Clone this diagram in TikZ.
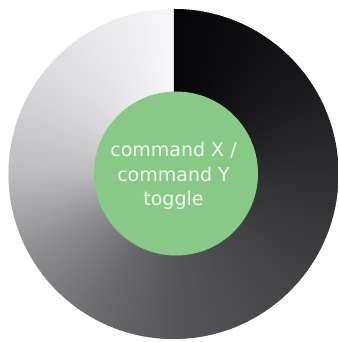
\documentclass[tikz,border=0pt]{standalone}
\usepackage{fontspec}
\setmainfont{DejaVu Sans}
\definecolor{grn}{HTML}{88C988}
\definecolor{txt}{HTML}{F0F8F0}
\begin{document}
\begin{tikzpicture}[x=1pt,y=1pt]
\useasboundingbox (0,0) rectangle (338,342);
\coordinate (O) at (173.5,168);
\begin{scope}
\clip (O) circle[radius=165];
\foreach \ta/\tb/\ga/\gb in {0/45/0.02/0.08, 45/90/0.08/0.18, 90/135/0.18/0.27, 135/180/0.27/0.34, 180/210/0.34/0.42, 210/240/0.42/0.55, 240/270/0.55/0.74, 270/300/0.74/0.84, 300/330/0.84/0.91, 330/360/0.91/0.97} {
  \pgfmathtruncatemacro\n{\tb-\ta}
  \foreach \k in {1,...,\n} {
    \pgfmathsetmacro\g{\ga+(\gb-\ga)*(\k-0.5)/\n}
    \pgfmathsetmacro\gbl{min(\g+0.012,1)}
    \pgfmathsetmacro\sa{90-\ta-\k+1}
    \pgfmathsetmacro\ea{max(90-\ta-\k-0.6,-270)}
    \definecolor{wc}{rgb}{\g,\g,\gbl}
    \fill[wc] (O) -- ++(\sa:185) arc[start angle=\sa, end angle=\ea, radius=185] -- cycle;
  }
}
\end{scope}
\node[circle, fill=grn, minimum size=164pt, inner sep=0pt] (g) at (176,168.5) {};
\node[text=txt, align=center, font=\fontsize{19}{24.5}\selectfont] (t) at (173.5,166) {command X /\\command Y\\toggle};
\end{tikzpicture}
\end{document}
